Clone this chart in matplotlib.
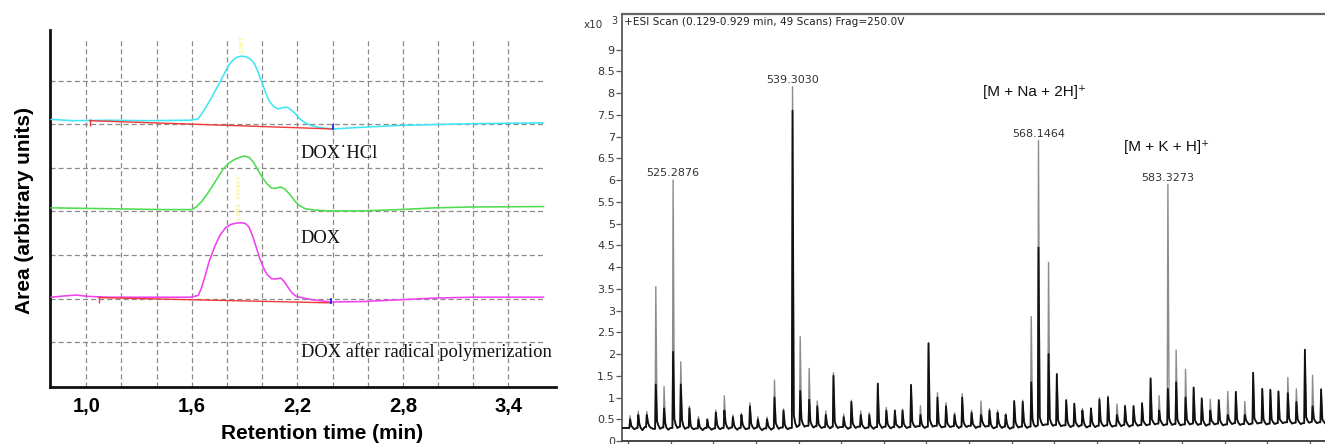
import matplotlib
matplotlib.use("Agg")
import matplotlib.pyplot as plt

# ---------------- Left panel: chromatograms ----------------
cyan_t = [0.80, 0.924, 1.13, 1.335, 1.593, 1.636, 1.657, 1.688, 1.719, 1.75, 1.78, 1.81,
          1.832, 1.853, 1.88, 1.905, 1.931, 1.956, 1.977, 1.998, 2.018, 2.039, 2.064,
          2.09, 2.117, 2.142, 2.163, 2.188, 2.214, 2.245, 2.276, 2.318, 2.369, 2.406,
          2.57, 2.776, 2.98, 3.19, 3.39, 3.60]
cyan_y = [6.11, 6.08, 6.09, 6.08, 6.09, 6.12, 6.24, 6.44, 6.66, 6.89, 7.12, 7.35,
          7.46, 7.53, 7.56, 7.55, 7.50, 7.39, 7.19, 6.96, 6.74, 6.54, 6.41,
          6.35, 6.38, 6.39, 6.33, 6.24, 6.12, 6.03, 5.97, 5.93, 5.90, 5.89,
          5.93, 5.97, 5.99, 6.01, 6.02, 6.03]
green_t = [0.80, 1.13, 1.438, 1.599, 1.626, 1.657, 1.688, 1.719, 1.75, 1.78, 1.812, 1.843,
           1.874, 1.898, 1.925, 1.95, 1.977, 2.002, 2.028, 2.055, 2.08, 2.105, 2.132,
           2.159, 2.183, 2.208, 2.245, 2.297, 2.369, 2.57, 2.776, 2.98, 3.19, 3.60]
green_y = [4.08, 4.06, 4.04, 4.04, 4.10, 4.23, 4.40, 4.59, 4.79, 4.98, 5.11, 5.19,
           5.24, 5.27, 5.24, 5.13, 4.94, 4.77, 4.63, 4.53, 4.53, 4.56, 4.50,
           4.38, 4.25, 4.14, 4.06, 4.03, 4.01, 4.01, 4.04, 4.08, 4.10, 4.11]
mag_t = [0.80, 0.88, 0.944, 1.006, 1.13, 1.335, 1.593, 1.636, 1.653, 1.671, 1.698, 1.729,
         1.76, 1.791, 1.822, 1.853, 1.88, 1.905, 1.925, 1.946, 1.966, 1.987, 2.008,
         2.028, 2.055, 2.08, 2.105, 2.126, 2.146, 2.169, 2.194, 2.235, 2.287, 2.369,
         2.40, 2.57, 2.776, 2.98, 3.19, 3.60]
mag_y = [2.03, 2.06, 2.08, 2.05, 2.03, 2.03, 2.03, 2.07, 2.22, 2.45, 2.84, 3.18,
         3.45, 3.62, 3.70, 3.73, 3.74, 3.72, 3.64, 3.43, 3.18, 2.91, 2.70,
         2.55, 2.45, 2.45, 2.47, 2.39, 2.26, 2.13, 2.05, 2.01, 1.97, 1.93,
         1.92, 1.93, 1.97, 2.01, 2.03, 2.03]
cyan_base_t = [1.02, 2.40]
cyan_base_y = [6.08, 5.89]
mag_base_t = [1.072, 2.39]
mag_base_y = [2.02, 1.90]
peak_tag_text = ["1.867", "1.863  382417"]
peak_tag_t = [1.884, 1.874]
peak_tag_y = [7.84, 4.30]
trace_names = ["DOX\u02d9HCl", "DOX", "DOX after radical polymerization"]
name_y = [5.32, 3.37, 0.77]
lc_tick_vals = [1.0, 1.6, 2.2, 2.8, 3.4]
lc_tick_labels = ["1,0", "1,6", "2,2", "2,8", "3,4"]
lc_grid_t = [1.0, 1.2, 1.4, 1.6, 1.8, 2.0, 2.2, 2.4, 2.6, 2.8, 3.0, 3.2, 3.4]
lc_grid_y = [1, 2, 3, 4, 5, 6, 7]

# ---------------- Right panel: ESI mass spectrum ----------------
ms_mz = [520.24, 521.2, 522.2, 523.26, 524.23, 525.29, 526.19, 527.2, 528.26, 529.3,
         530.3, 531.3, 532.3, 533.3, 534.3, 535.23, 536.3, 537.18, 538.24, 539.30,
         540.2, 541.25, 542.2, 543.2, 544.1, 545.3, 546.2, 547.3, 548.3, 549.3,
         550.3, 551.3, 552.2, 553.2, 554.3, 555.25, 556.3, 557.3, 558.3, 559.2,
         560.3, 561.4, 562.4, 563.35, 564.3, 565.3, 566.3, 567.3, 568.15, 569.33,
         570.3, 571.4, 572.35, 573.3, 574.3, 575.3, 576.3, 577.35, 578.3, 579.3,
         580.3, 581.3, 582.3, 583.33, 584.3, 585.4, 586.35, 587.3, 588.3, 589.3,
         590.35, 591.3, 592.35, 593.33, 594.4, 595.35, 596.3, 597.4, 598.4, 599.4,
         600.3, 601.3]
ms_int = [0.58, 0.68, 0.68, 3.55, 1.25, 6.0, 1.82, 0.8, 0.56, 0.5,
          0.71, 1.04, 0.6, 0.64, 0.88, 0.56, 0.55, 1.4, 0.74, 8.15,
          2.4, 1.67, 0.92, 0.69, 1.57, 0.62, 0.94, 0.69, 0.65, 1.32,
          0.77, 0.71, 0.73, 1.29, 0.81, 2.25, 1.11, 0.88, 0.65, 1.09,
          0.71, 0.92, 0.75, 0.71, 0.63, 0.92, 0.94, 2.86, 6.91, 4.11,
          1.54, 0.94, 0.86, 0.75, 0.75, 1.0, 1.04, 0.85, 0.83, 0.82,
          0.87, 1.44, 1.04, 5.9, 2.09, 1.65, 1.23, 0.98, 0.96, 0.94,
          1.14, 1.13, 0.91, 1.57, 1.2, 1.18, 1.14, 1.46, 1.2, 2.1,
          1.51, 1.19]
ms_black = [0.5, 0.6, 0.6, 1.3, 0.75, 2.05, 1.3, 0.75, 0.5, 0.5,
            0.65, 0.7, 0.55, 0.6, 0.8, 0.5, 0.5, 1.0, 0.7, 7.6,
            1.15, 0.95, 0.8, 0.6, 1.5, 0.55, 0.9, 0.6, 0.6, 1.32,
            0.7, 0.7, 0.7, 1.29, 0.6, 2.25, 1.0, 0.8, 0.6, 1.0,
            0.65, 0.6, 0.7, 0.65, 0.6, 0.92, 0.9, 1.35, 4.45, 2.0,
            1.54, 0.94, 0.86, 0.7, 0.75, 0.95, 1.0, 0.6, 0.8, 0.8,
            0.87, 1.44, 0.7, 1.2, 1.35, 1.0, 1.23, 0.98, 0.7, 0.94,
            0.6, 1.13, 0.6, 1.57, 1.2, 1.18, 1.14, 1.1, 0.9, 2.1,
            0.8, 1.19]
ms_tail = [0.35, 0.38, 0.42, 0.45, 0.4, 0.5, 0.48, 0.36, 0.33, 0.32,
           0.38, 0.42, 0.36, 0.38, 0.4, 0.34, 0.35, 0.42, 0.38, 0.6,
           0.5, 0.45, 0.4, 0.38, 0.45, 0.36, 0.42, 0.38, 0.36, 0.42,
           0.4, 0.38, 0.4, 0.45, 0.4, 0.5, 0.42, 0.42, 0.4, 0.44,
           0.4, 0.46, 0.4, 0.42, 0.4, 0.44, 0.44, 0.5, 0.55, 0.52,
           0.48, 0.46, 0.44, 0.45, 0.44, 0.46, 0.47, 0.46, 0.45, 0.46,
           0.46, 0.5, 0.48, 0.52, 0.5, 0.5, 0.48, 0.48, 0.47, 0.48,
           0.5, 0.5, 0.48, 0.52, 0.5, 0.5, 0.5, 0.52, 0.5, 0.55,
           0.52, 0.5]
ms_j1 = [0.31, 0.3, 0.34, 0.36, 0.3, 0.38, 0.35, 0.3, 0.29, 0.3,
         0.31, 0.33, 0.3, 0.32, 0.33, 0.29, 0.3, 0.34, 0.31, 0.42,
         0.4, 0.37, 0.34, 0.33, 0.36, 0.32, 0.35, 0.33, 0.32, 0.36,
         0.34, 0.35, 0.34, 0.37, 0.34, 0.4, 0.36, 0.36, 0.34, 0.37,
         0.35, 0.38, 0.33, 0.35, 0.32, 0.36, 0.35, 0.38, 0.44, 0.42,
         0.4, 0.37, 0.38, 0.36, 0.37, 0.39, 0.38, 0.4, 0.38, 0.4,
         0.41, 0.44, 0.42, 0.43, 0.42, 0.44, 0.42, 0.41, 0.43, 0.41,
         0.44, 0.42, 0.43, 0.46, 0.43, 0.44, 0.46, 0.45, 0.44, 0.47,
         0.46, 0.45]
ms_trough = [0.27, 0.25, 0.3, 0.28, 0.26, 0.3, 0.28, 0.27, 0.25, 0.26,
             0.27, 0.28, 0.26, 0.27, 0.28, 0.25, 0.26, 0.28, 0.27, 0.32,
             0.33, 0.31, 0.3, 0.29, 0.3, 0.28, 0.3, 0.29, 0.28, 0.3,
             0.29, 0.31, 0.3, 0.32, 0.3, 0.33, 0.31, 0.32, 0.3, 0.32,
             0.3, 0.33, 0.29, 0.3, 0.28, 0.31, 0.3, 0.33, 0.36, 0.35,
             0.34, 0.32, 0.33, 0.31, 0.32, 0.34, 0.33, 0.34, 0.33, 0.35,
             0.36, 0.38, 0.36, 0.37, 0.36, 0.38, 0.37, 0.35, 0.38, 0.36,
             0.39, 0.37, 0.38, 0.4, 0.38, 0.39, 0.41, 0.4, 0.39, 0.42,
             0.41, 0.4]
ms_j2 = [0.3, 0.32, 0.28, 0.31, 0.3, 0.33, 0.31, 0.29, 0.3, 0.29,
         0.3, 0.31, 0.3, 0.29, 0.31, 0.29, 0.3, 0.31, 0.3, 0.36,
         0.35, 0.34, 0.32, 0.33, 0.32, 0.31, 0.33, 0.31, 0.32, 0.33,
         0.32, 0.33, 0.32, 0.34, 0.33, 0.35, 0.33, 0.34, 0.33, 0.35,
         0.33, 0.34, 0.32, 0.33, 0.31, 0.33, 0.33, 0.36, 0.38, 0.37,
         0.36, 0.35, 0.36, 0.34, 0.35, 0.36, 0.35, 0.37, 0.36, 0.37,
         0.38, 0.4, 0.38, 0.39, 0.38, 0.4, 0.39, 0.38, 0.4, 0.38,
         0.41, 0.39, 0.4, 0.42, 0.4, 0.41, 0.43, 0.42, 0.41, 0.44,
         0.43, 0.42]
ms_label_text = ["525.2876", "539.3030", "568.1464", "583.3273"]
ms_label_idx = [5, 19, 48, 63]
ion_text = ["[M + Na + 2H]\u207a", "[M + K + H]\u207a"]
ion_mz = [561.64, 578.18]
ion_y = [8.02, 6.76]
ms_yticks = [0, 0.5, 1, 1.5, 2, 2.5, 3, 3.5, 4, 4.5, 5, 5.5, 6, 6.5, 7, 7.5, 8, 8.5, 9]
ms_ytick_labels = ["0", "0.5", "1", "1.5", "2", "2.5", "3", "3.5", "4", "4.5", "5",
                   "5.5", "6", "6.5", "7", "7.5", "8", "8.5", "9"]
ms_xticks = [520, 525, 530, 535, 540, 545, 550, 555, 560, 565, 570, 575, 580, 585, 590, 595, 600]
ms_title = "+ESI Scan (0.129-0.929 min, 49 Scans) Frag=250.0V"

W, H = 1325, 444
fig = plt.figure(figsize=(W / 100, H / 100), dpi=100)

# ---- left axes
axL = fig.add_axes([49.8 / W, (H - 387) / H, (556 - 49.8) / W, (387 - 30) / H])
axL.set_xlim(0.793, 3.67)
axL.set_ylim(-0.03, 8.16)
axL.vlines(lc_grid_t, -0.03, 7.93, colors="#8a8a8a", linestyles=(0, (4, 2.5)), lw=0.9, zorder=1)
axL.hlines(lc_grid_y, 0.793, 3.60, colors="#8a8a8a", linestyles=(0, (4, 2.5)), lw=0.9, zorder=1)
kw = dict(lw=1.15, zorder=3, solid_joinstyle="round", solid_capstyle="round")
axL.plot(cyan_t, cyan_y, color="#3fe6f6", **kw)
axL.plot(green_t, green_y, color="#4fdc4f", **kw)
axL.plot(mag_t, mag_y, color="#f040f0", **kw)
axL.plot(cyan_base_t, cyan_base_y, color="#f03a3a", lw=1.0, zorder=4)
axL.plot(mag_base_t, mag_base_y, color="#f03a3a", lw=1.0, zorder=4)
for bt, by in ((cyan_base_t, cyan_base_y), (mag_base_t, mag_base_y)):
    axL.vlines([bt[0]], by[0] - 0.12, by[0] + 0.03, colors="#f03a3a", lw=1.0, zorder=4)
    axL.vlines([bt[1]], by[1] - 0.03, by[1] + 0.12, colors="#2030e0", lw=1.3, zorder=4)
for txt, tt, ty in zip(peak_tag_text, peak_tag_t, peak_tag_y):
    axL.text(tt, ty, txt, rotation=90, ha="center", va="center", fontsize=4.5,
             color="#f5f060", zorder=5)
for name, ny in zip(trace_names, name_y):
    axL.text(2.22, ny, name, ha="left", va="center", fontsize=13.3,
             family=["Liberation Serif", "DejaVu Serif"], color="#111111", zorder=5)
axL.set_xticks(lc_tick_vals)
axL.set_xticklabels(lc_tick_labels, fontsize=14.5, fontweight="bold", family="Liberation Sans")
axL.set_yticks([])
axL.tick_params(axis="x", length=0, pad=7)
for s in ("top", "right"):
    axL.spines[s].set_visible(False)
for s in ("left", "bottom"):
    axL.spines[s].set_linewidth(2.0)
    axL.spines[s].set_color("#111111")
fig.text(321.7 / W, (H - 433) / H, "Retention time (min)", ha="center", va="center",
         fontsize=15, fontweight="bold", family="Liberation Sans")
fig.text(24.5 / W, (H - 210) / H, "Area (arbitrary units)", ha="center", va="center",
         rotation=90, fontsize=15, fontweight="bold", family="Liberation Sans")

# ---- right axes
xl = (519.26, 601.76)
axR = fig.add_axes([621.7 / W, (H - 441) / H, (W - 621.7) / W, (441 - 14) / H])
axR.set_xlim(*xl)
axR.set_ylim(0, 9.82)


def profile(tops):
    xs = [xl[0]]
    ys = [0.3]
    prev = 0.3
    for m, h, a, j1, b, j2 in zip(ms_mz, tops, ms_tail, ms_j1, ms_trough, ms_j2):
        xs += [m - 0.08, m, m + 0.15, m + 0.3, m + 0.5, m + 0.75]
        ys += [prev, h, a, j1, b, j2]
        prev = j2
    return xs, ys


gx, gy = profile(ms_int)
bx, by = profile([min(h, b) for h, b in zip(ms_int, ms_black)])
axR.plot(gx, gy, color="#8c8c8c", lw=1.0, zorder=2)
axR.plot(bx, by, color="#111111", lw=1.3, zorder=3)

for txt, i in zip(ms_label_text, ms_label_idx):
    axR.text(ms_mz[i], ms_int[i] + 0.04, txt, ha="center", va="bottom", fontsize=8,
             color="#333333", family="DejaVu Sans")
for txt, m, y in zip(ion_text, ion_mz, ion_y):
    axR.text(m, y, txt, ha="left", va="center", fontsize=11, color="#111111",
             family=["Liberation Sans", "DejaVu Sans"])
axR.text(519.57, 9.63, ms_title, ha="left", va="center", fontsize=7.6,
         color="#222222", family="DejaVu Sans")

axR.set_yticks(ms_yticks)
axR.set_yticklabels(ms_ytick_labels, fontsize=8, color="#333333", family="DejaVu Sans")
axR.set_xticks(ms_xticks)
axR.set_xticklabels([])
axR.tick_params(axis="y", length=4, width=0.9, pad=1, color="#555555")
axR.tick_params(axis="x", length=3, width=0.9, color="#555555")
axR.spines["right"].set_visible(False)
axR.spines["top"].set_color("#666666")
axR.spines["top"].set_linewidth(1.6)
axR.spines["left"].set_color("#666666")
axR.spines["left"].set_linewidth(1.4)
axR.spines["bottom"].set_color("#444444")
axR.spines["bottom"].set_linewidth(1.4)

fig.text(583.3 / W, (H - 25) / H, "x10", ha="left", va="center", fontsize=7.5,
         color="#333333", family="DejaVu Sans")
fig.text(611 / W, (H - 21.5) / H, "3", ha="left", va="center", fontsize=7,
         color="#333333", family="DejaVu Sans")

fig.savefig("out.png", dpi=100)
